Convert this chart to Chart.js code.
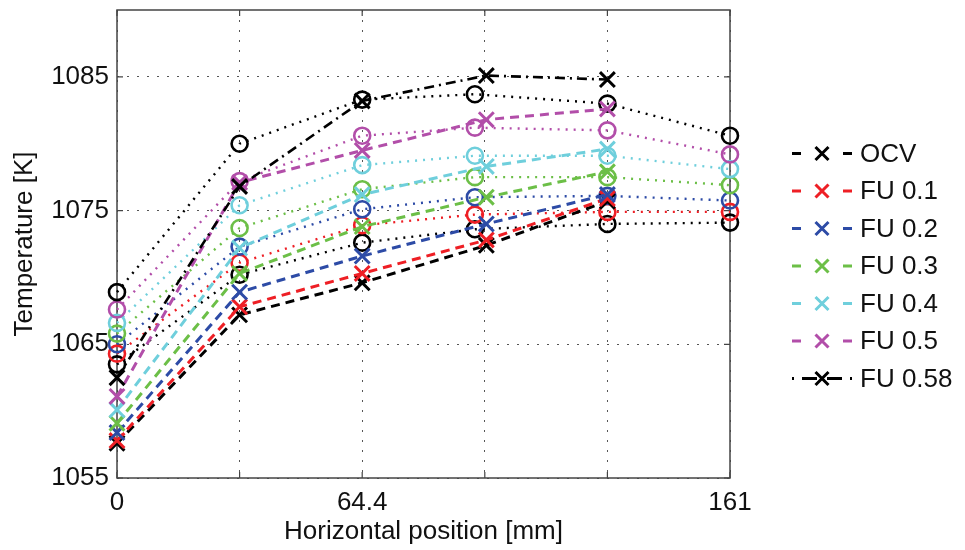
<!DOCTYPE html>
<html>
<head>
<meta charset="utf-8">
<title>Temperature profile</title>
<script src="https://cdn.jsdelivr.net/npm/chart.js@4.4.1/dist/chart.umd.min.js"></script>
<style>
  html, body { margin: 0; padding: 0; background: #fff; }
  canvas { display: block; }
</style>
</head>
<body>
<canvas id="chartTemp" width="965" height="550"></canvas>
<script>
// Posições dos pontos (mm)
const xCross = [0, 32.2, 64.4, 97, 128.8];
const xCircle = [0, 32.2, 64.4, 94, 128.8, 161];

// Eixos
const xTicks = [0, 32.2, 64.4, 96.6, 128.8, 161];
const xTickLabels = ['0', '', '64.4', '', '', '161'];
const yTicks = [1055, 1065, 1075, 1085];

const seriesNames = ['OCV', 'FU 0.1', 'FU 0.2', 'FU 0.3', 'FU 0.4', 'FU 0.5', 'FU 0.58'];
const seriesColors = ['#000000', '#ee1f25', '#2d4ba6', '#6cbf47', '#6fcfdc', '#b24ea9', '#000000'];

// Temperaturas (K) - curvas tracejadas com "x"
const crossOCV  = [1057.6, 1067.2, 1069.6, 1072.4, 1075.7];
const crossFU01 = [1057.8, 1067.8, 1070.3, 1072.8, 1075.9];
const crossFU02 = [1058.4, 1068.9, 1071.6, 1074.0, 1076.2];
const crossFU03 = [1059.1, 1070.3, 1073.8, 1076.0, 1077.9];
const crossFU04 = [1060.1, 1072.2, 1076.2, 1078.3, 1079.6];
const crossFU05 = [1061.1, 1077.1, 1079.5, 1081.8, 1082.6];
const crossFU58 = [1062.5, 1076.8, 1083.2, 1085.1, 1084.8];

// Temperaturas (K) - curvas pontilhadas com "o"
const circleOCV  = [1063.5, 1070.2, 1072.6, 1073.6, 1074.0, 1074.1];
const circleFU01 = [1064.3, 1071.1, 1073.9, 1074.7, 1074.9, 1074.9];
const circleFU02 = [1065.0, 1072.3, 1075.1, 1076.0, 1076.1, 1075.75];
const circleFU03 = [1065.8, 1073.7, 1076.6, 1077.5, 1077.5, 1076.9];
const circleFU04 = [1066.6, 1075.4, 1078.4, 1079.1, 1079.1, 1078.1];
const circleFU05 = [1067.6, 1077.2, 1080.6, 1081.2, 1081.0, 1079.2];
const circleFU58 = [1068.9, 1080.0, 1083.3, 1083.7, 1083.0, 1080.6];

const crossSeries = [crossOCV, crossFU01, crossFU02, crossFU03, crossFU04, crossFU05, crossFU58];
const circleSeries = [circleOCV, circleFU01, circleFU02, circleFU03, circleFU04, circleFU05, circleFU58];

const FONT = "'Liberation Sans', Arial, sans-serif";

function pares(xs, ys) {
    return ys.map((v, i) => ({ x: xs[i], y: v }));
}

// =================================================================
// DATASETS
// =================================================================

const datasets = [];

circleSeries.forEach((vals, i) => {
    datasets.push({
        label: seriesNames[i] + ' (o)',
        data: pares(xCircle, vals),
        borderColor: seriesColors[i],
        backgroundColor: 'transparent',
        borderWidth: 2.4,
        borderDash: [2, 6],
        pointStyle: 'circle',
        pointRadius: 8,
        pointBorderWidth: 2.6,
        pointBackgroundColor: 'transparent',
        pointBorderColor: seriesColors[i],
        tension: 0,
        clip: false,
        order: 100 - i
    });
});

crossSeries.forEach((vals, i) => {
    const ultimo = i === crossSeries.length - 1;
    datasets.push({
        label: seriesNames[i],
        legenda: true,
        data: pares(xCross, vals),
        borderColor: seriesColors[i],
        backgroundColor: 'transparent',
        borderWidth: ultimo ? 2.6 : 3,
        borderDash: ultimo ? [10, 5, 2, 5] : [9, 6],
        pointStyle: 'crossRot',
        pointRadius: 10.5,
        pointBorderWidth: 3,
        pointBorderColor: seriesColors[i],
        tension: 0,
        clip: false,
        order: 50 - i
    });
});

// =================================================================
// PLUGINS (moldura do gráfico e legenda)
// =================================================================

const moldura = {
    id: 'moldura',
    beforeDatasetsDraw(chart) {
        const { ctx, chartArea: a, scales: { x, y } } = chart;
        ctx.save();
        ctx.setLineDash([]);
        ctx.strokeStyle = '#444';
        ctx.lineWidth = 1.5;
        ctx.strokeRect(a.left, a.top, a.right - a.left, a.bottom - a.top);
        ctx.lineWidth = 1.2;
        ctx.beginPath();
        xTicks.forEach(v => {
            const px = x.getPixelForValue(v);
            ctx.moveTo(px, a.bottom); ctx.lineTo(px, a.bottom - 6);
            ctx.moveTo(px, a.top); ctx.lineTo(px, a.top + 6);
        });
        yTicks.forEach(v => {
            const py = y.getPixelForValue(v);
            ctx.moveTo(a.left, py); ctx.lineTo(a.left + 6, py);
            ctx.moveTo(a.right, py); ctx.lineTo(a.right - 6, py);
        });
        ctx.stroke();
        ctx.restore();
    }
};

const legenda = {
    id: 'legenda',
    afterDraw(chart) {
        const { ctx, chartArea: a } = chart;
        const x0 = a.right + 62;
        const x1 = x0 + 60;
        const xm = x0 + 30;
        const xTexto = x1 + 8;
        const itens = chart.data.datasets.filter(d => d.legenda);

        ctx.save();
        ctx.font = `26px ${FONT}`;
        ctx.textBaseline = 'middle';
        ctx.fillStyle = '#111';
        itens.forEach((ds, i) => {
            const yy = 153.5 + i * 37.5;
            ctx.strokeStyle = ds.borderColor;
            ctx.lineWidth = 3;
            ctx.setLineDash([]);
            ctx.beginPath();
            if (ds.borderDash.length === 4) {
                // traço-ponto
                ctx.moveTo(x0, yy); ctx.lineTo(x0 + 2, yy);
                ctx.moveTo(x0 + 10, yy); ctx.lineTo(x0 + 25, yy);
                ctx.moveTo(x1 - 25, yy); ctx.lineTo(x1 - 10, yy);
                ctx.moveTo(x1 - 2, yy); ctx.lineTo(x1, yy);
            } else {
                ctx.moveTo(x0, yy); ctx.lineTo(x0 + 9, yy);
                ctx.moveTo(x1 - 9, yy); ctx.lineTo(x1, yy);
            }
            ctx.stroke();

            // marcador "x"
            const r = 6.5;
            ctx.beginPath();
            ctx.moveTo(xm - r, yy - r); ctx.lineTo(xm + r, yy + r);
            ctx.moveTo(xm - r, yy + r); ctx.lineTo(xm + r, yy - r);
            ctx.stroke();

            ctx.fillText(ds.label, xTexto, yy + 1);
        });
        ctx.restore();
    }
};

// =================================================================
// GRÁFICO
// =================================================================

new Chart(document.getElementById('chartTemp'), {
    type: 'line',
    data: { datasets },
    options: {
        responsive: false,
        animation: false,
        devicePixelRatio: 1,
        layout: { autoPadding: false, padding: { top: 10, right: 235, bottom: 0, left: 0 } },
        plugins: {
            legend: { display: false },
            title: { display: false },
            tooltip: { enabled: false }
        },
        scales: {
            x: {
                type: 'linear',
                min: 0,
                max: 161,
                afterBuildTicks: s => { s.ticks = xTicks.map(v => ({ value: v })); },
                afterFit: s => { s.height = 72; s.paddingLeft = 0; s.paddingRight = 0; },
                grid: { color: '#555', lineWidth: 1, drawTicks: false },
                border: { display: false, dash: [2, 8] },
                ticks: {
                    autoSkip: false,
                    maxRotation: 0,
                    padding: 9,
                    color: '#111',
                    font: { family: FONT, size: 26 },
                    callback: (v, i) => xTickLabels[i]
                },
                title: {
                    display: true,
                    text: 'Horizontal position [mm]',
                    color: '#111',
                    font: { family: FONT, size: 26 },
                    padding: { top: 0, bottom: 3 }
                }
            },
            y: {
                type: 'linear',
                min: 1055,
                max: 1090,
                afterBuildTicks: s => { s.ticks = yTicks.map(v => ({ value: v })); },
                afterFit: s => { s.width = 117; s.paddingTop = 0; s.paddingBottom = 0; },
                grid: { color: '#555', lineWidth: 1, drawTicks: false },
                border: { display: false, dash: [2, 8] },
                ticks: {
                    padding: 8,
                    color: '#111',
                    font: { family: FONT, size: 26 },
                    callback: v => String(v)
                },
                title: {
                    display: true,
                    text: 'Temperature [K]',
                    color: '#111',
                    font: { family: FONT, size: 26 },
                    padding: { top: 9, bottom: 0 }
                }
            }
        }
    },
    plugins: [moldura, legenda]
});
</script>
</body>
</html>
